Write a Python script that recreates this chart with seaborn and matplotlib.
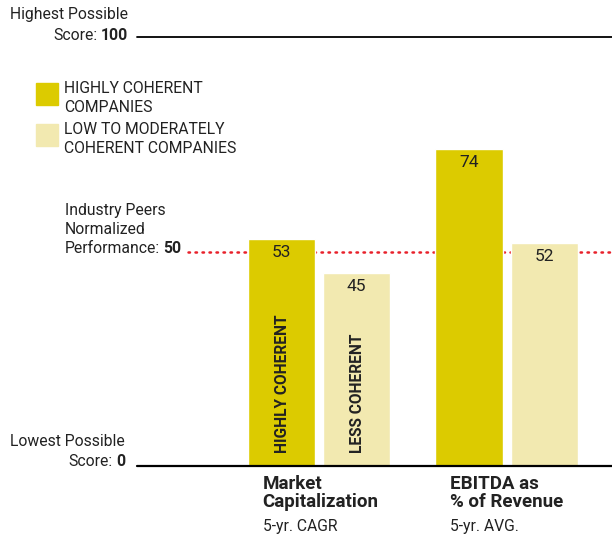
import numpy as np
import matplotlib
matplotlib.use('Agg')
import matplotlib.pyplot as plt
from matplotlib.patches import Rectangle
import pandas as pd
import seaborn as sns

sns.set_style('white')
plt.rcParams['font.family'] = ['Roboto', 'DejaVu Sans']

# data
metrics = ["Market\nCapitalization", "EBITDA as\n% of Revenue"]
subtitles = ["5-yr. CAGR", "5-yr. AVG."]
groups = ["HIGHLY COHERENT\nCOMPANIES", "LOW TO MODERATELY\nCOHERENT COMPANIES"]
highly = [53, 74]
low = [45, 52]
bar_tags = ["HIGHLY COHERENT", "LESS COHERENT"]
peer_level = 50

colors = ['#DCCB00', '#F2E9B0']
ink = '#222222'
W, H = 612, 534
fs = 11.3

df = pd.DataFrame({
    'metric': metrics * 2,
    'group': [groups[0]] * 2 + [groups[1]] * 2,
    'score': highly + low,
})

fig = plt.figure(figsize=(W / 100, H / 100), dpi=100)
ax = fig.add_axes([137 / W, 68 / H, 475 / W, 429 / H])

sns.barplot(data=df, x='metric', y='score', hue='group', hue_order=groups,
            palette=colors, width=0.8, gap=0.1, saturation=1, legend=False,
            ax=ax, zorder=2)

ax.set_ylim(0, 100)
ax.set_xlim(-0.968, 1.559)
ax.set_xlabel('')
ax.set_ylabel('')
ax.set_xticks([])
ax.set_yticks([])
for s in ax.spines.values():
    s.set_visible(False)

ax.axhline(0, color='black', lw=1.6, zorder=3, clip_on=False)
ax.axhline(100, color='black', lw=1.3, zorder=3, clip_on=False)
ax.plot([-0.695, 1.559], [peer_level, peer_level], color='#E8202A', lw=1.8,
        linestyle=(0, (0.6, 2.2)), dash_capstyle='round', zorder=1, clip_on=False)

# values inside bar tops + rotated tags
for i, cont in enumerate(ax.containers):
    for j, bar in enumerate(cont):
        cx = bar.get_x() + bar.get_width() / 2
        ax.annotate(f"{bar.get_height():.0f}", (cx, bar.get_height()),
                    xytext=(0, -6), textcoords='offset pixels', ha='center',
                    va='top', fontsize=12.5, color=ink, zorder=4)
        if j == 0:
            ax.annotate(bar_tags[i], (cx, 0), xytext=(1, 13),
                        textcoords='offset pixels', rotation=90, ha='center',
                        va='bottom', fontsize=11.2, weight='bold', color=ink)

# category labels under the axis
for j, cont_bar in enumerate(ax.containers[0]):
    x0 = cont_bar.get_x()
    ax.annotate(metrics[j], (x0, 0), xytext=(15, -9), textcoords='offset pixels',
                ha='left', va='top', fontsize=13.5, weight='bold', color=ink,
                linespacing=1.0, annotation_clip=False)
    ax.annotate(subtitles[j], (x0, 0), xytext=(15, -61), textcoords='offset pixels',
                ha='left', va='center', fontsize=fs, color=ink,
                annotation_clip=False)


def fx(x):
    return x / W


def fy(y):
    return 1 - y / H


renderer = fig.canvas.get_renderer()


def right_pair(xr, y, regular, bold):
    t = fig.text(fx(xr), fy(y), bold, ha='right', va='center', fontsize=fs,
                 weight='bold', color=ink)
    w = t.get_window_extent(renderer).width
    fig.text(fx(xr - w - 3), fy(y), regular, ha='right', va='center',
             fontsize=fs, color=ink)


right_pair(128, 35, "Score:", "100")
fig.text(fx(128), fy(15), "Highest Possible", ha='right', va='center',
         fontsize=fs, color=ink)
right_pair(125, 461, "Score:", "0")
fig.text(fx(125), fy(442), "Lowest Possible", ha='right', va='center',
         fontsize=fs, color=ink)

fig.text(fx(65), fy(210), "Industry Peers", ha='left', va='center', fontsize=fs, color=ink)
fig.text(fx(65), fy(229), "Normalized", ha='left', va='center', fontsize=fs, color=ink)
t = fig.text(fx(65), fy(249), "Performance:", ha='left', va='center', fontsize=fs, color=ink)
w = t.get_window_extent(renderer).width
fig.text(fx(65 + w + 3), fy(249), str(peer_level), ha='left', va='center',
         fontsize=fs, weight='bold', color=ink)

# legend
for k, (ytop, col) in enumerate([(83, colors[0]), (124, colors[1])]):
    fig.patches.append(Rectangle((fx(36), fy(ytop + 22)), 22 / W, 22 / H,
                                 transform=fig.transFigure, color=col))
    fig.text(fx(64), fy(ytop + 15), groups[k], ha='left', va='center',
             fontsize=fs, color=ink, linespacing=1.3)

fig.savefig('out.png', dpi=100)
